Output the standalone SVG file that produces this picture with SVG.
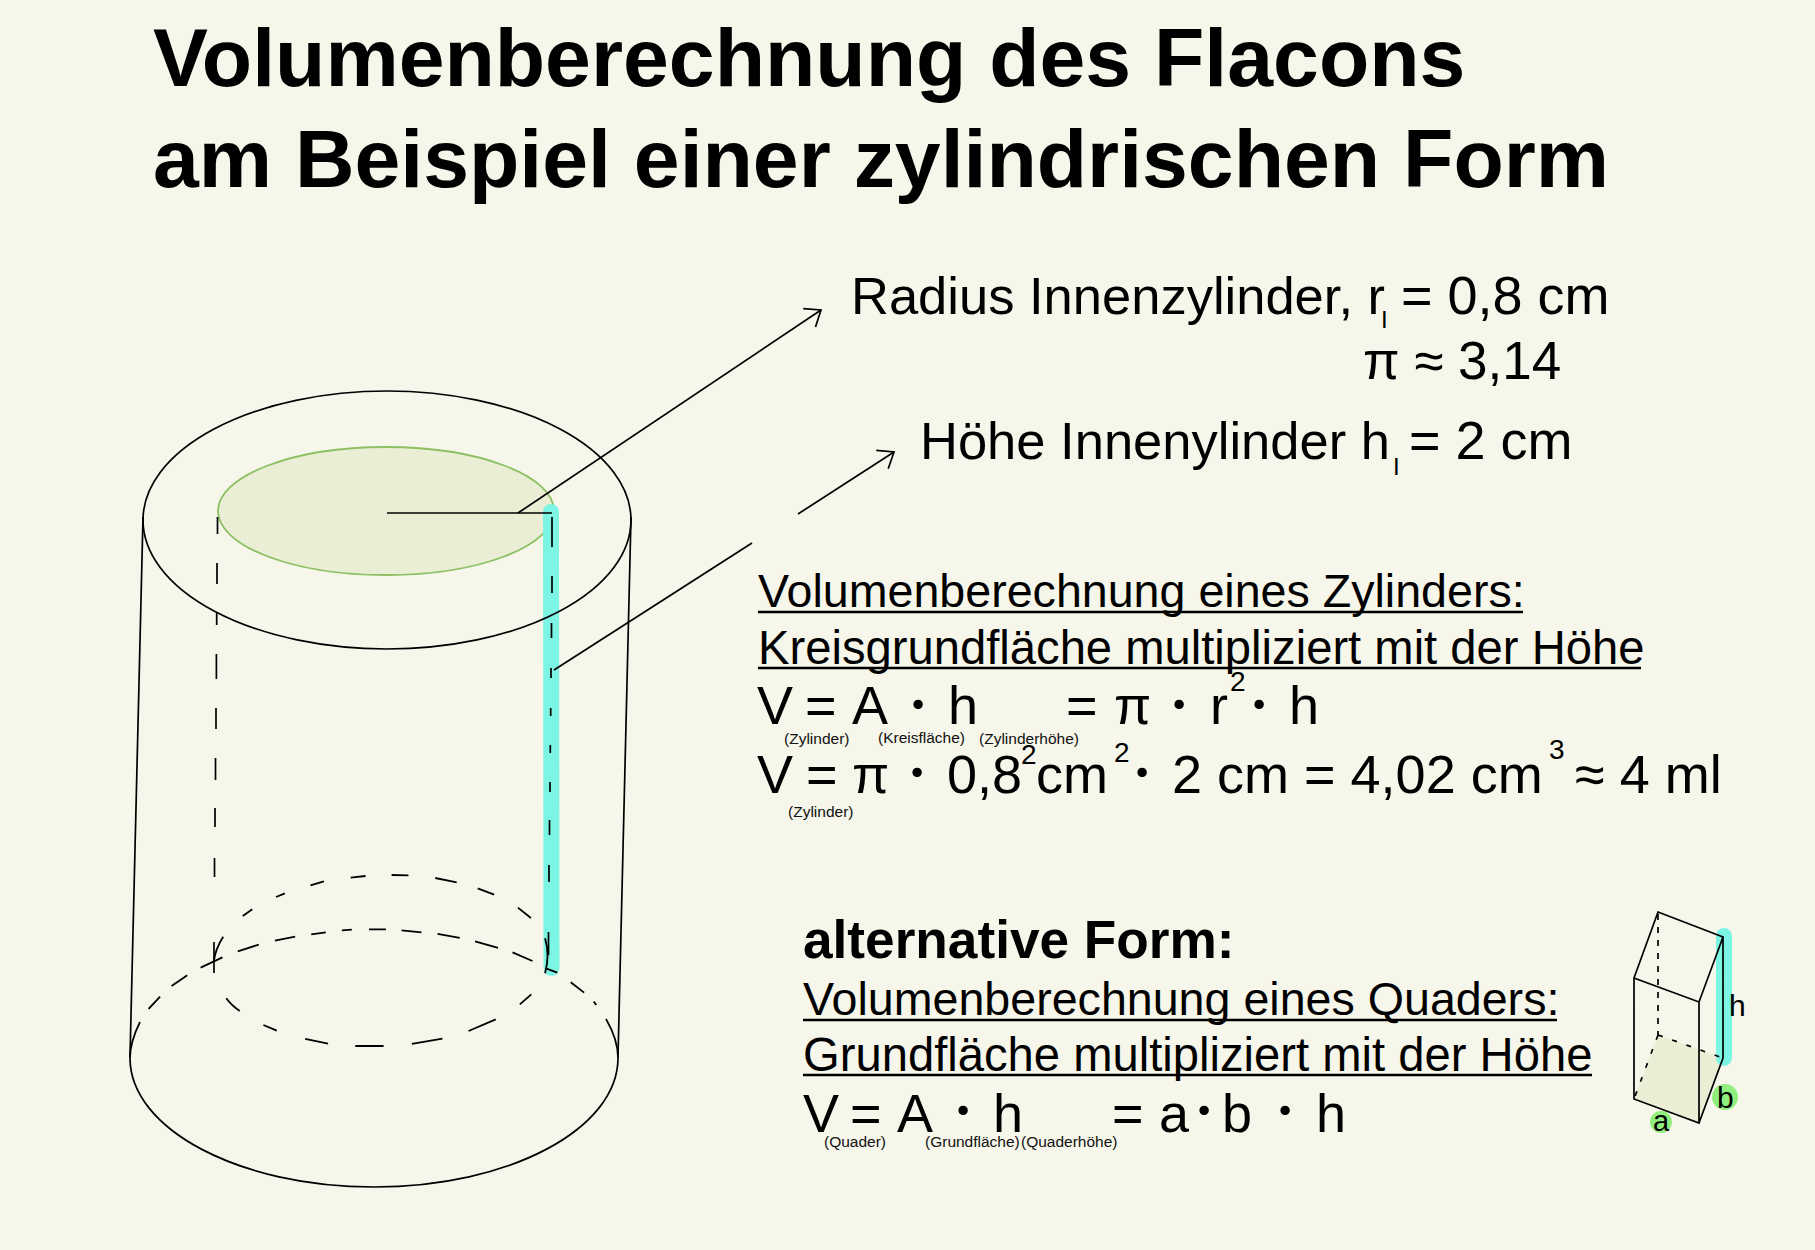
<svg xmlns="http://www.w3.org/2000/svg" width="1815" height="1250" viewBox="0 0 1815 1250">
<style>
text{font-family:"Liberation Sans",Arial,sans-serif;fill:#000}
.title{font-size:82.4px;font-weight:700}
.big{font-size:52.5px}
.big2{font-size:54px}
.midc{font-size:46.6px}
.mid{font-size:47.2px}
.eq{font-size:54px}
.dot{font-family:Lato,"Liberation Sans",sans-serif;font-size:50px;font-weight:700;text-anchor:middle}
.sup{font-size:28px}
.sub{font-size:15.5px;fill:#111}
.sb{font-size:24px}
.ln{fill:none;stroke:#000;stroke-width:1.7}
.thin{fill:none;stroke:#000;stroke-width:1.8;vector-effect:non-scaling-stroke}
.cy{fill:none;stroke:#7cf5e4;stroke-linecap:round}
.u{stroke:#000;stroke-width:2.6;fill:none}
</style>
<defs>
<marker id="open" markerUnits="userSpaceOnUse" markerWidth="32" markerHeight="32" refX="20" refY="16" orient="auto" overflow="visible">
<path d="M6,5 L20,16 L6,27" fill="none" stroke="#000" stroke-width="1.7"/>
</marker>
</defs>
<rect width="1815" height="1250" fill="#f6f6ea"/>

<g id="title">
<text class="title" x="153" y="86">Volumenberechnung des Flacons</text>
<text class="title" x="153" y="187">am Beispiel einer zylindrischen Form</text>
</g>

<g id="cylinder">
<ellipse cx="386" cy="511" rx="168" ry="64" fill="#e9eed5" stroke="#8cc063" stroke-width="1.8"/>
<path class="cy" stroke-width="16" d="M551,512 L551.5,968"/>
<ellipse class="ln" cx="387" cy="520" rx="244" ry="129"/>
<path class="ln" d="M143,517 L130,1057 M631,517 L618,1057"/>
<path class="ln" d="M387,513 H552"/>
<path class="ln" d="M140,1022 C134,1034 130,1046 130,1058 C130,1129 239,1187 374,1187 C509,1187 618,1129 618,1058 C618,1044 613,1031 606,1019"/>
<g transform="translate(100,820) scale(.3827,.3333)">
<path class="thin" d="M127,567L157,530M187,498L228,466M263,443L320,412M360,394L415,374M457,362L510,350M552,343L590,337M632,331L658,329M703,328L747,328M788,331L840,337M882,342L940,354M980,364L1040,384M1078,397L1130,423M1165,445L1195,458M1230,487L1265,518M1290,545L1297,555"/>
<path class="thin" d="M373,288L398,268M460,231L483,220M550,196L585,184M655,173L694,168M762,165L806,166M876,174L932,187M987,205L1030,224M1092,263L1126,294M1163,355Q1176,405 1163,460M322,350Q302,385 297,425M330,535Q343,556 365,573M427,615L462,632M536,657L596,671M667,678L741,678M815,672L895,656M963,633L1034,598M1097,553L1127,523"/>
</g>
<path class="ln" d="M217.5,517V534M217,563V584M216.7,613V625M216.4,654V679M216,708V729M215.5,758V780M215,808V827M214.5,858V877M214,942V973"/>
<path class="ln" d="M552,517V547M552,576V593M551.5,623V638M551,668V678M550.7,708V716M550.3,745V753M550,782V792M549.5,820V835M549,865V882M548.5,932V955"/>
</g>

<g id="connectors">
<path class="ln" d="M518,513 L821,310" marker-end="url(#open)"/>
<path class="ln" d="M554,670 L752,543"/>
<path class="ln" d="M798,514 L894,452" marker-end="url(#open)"/>
</g>

<g id="labels">
<text class="big" x="851" y="314">Radius Innenzylinder, r</text>
<text class="sb" x="1381" y="328">I</text>
<text class="big2" x="1401" y="314">= 0,8 cm</text>
<text x="1363" y="379" style="font-size:53px">π ≈ 3,14</text>
<text class="big" x="920" y="459">Höhe Innenylinder h</text>
<text class="sb" x="1393" y="475">I</text>
<text class="big2" x="1409" y="459">= 2 cm</text>
</g>

<g id="zylinder-formel">
<text class="midc" x="758" y="607">Volumenberechnung eines Zylinders:</text>
<path class="u" d="M758,612H1523"/>
<text class="mid" x="758" y="664">Kreisgrundfläche multipliziert mit der Höhe</text>
<path class="u" d="M758,668H1641"/>
<text class="eq" x="757" y="724">V</text>
<text class="eq" x="805" y="724">=</text>
<text class="eq" x="852" y="724">A</text>
<text class="dot" x="918" y="719">·</text>
<text class="eq" x="948" y="724">h</text>
<text class="eq" x="1066" y="724">=</text>
<text class="eq" x="1114" y="724">π</text>
<text class="dot" x="1179" y="719">·</text>
<text class="eq" x="1210" y="724">r</text>
<text class="sup" x="1230" y="691">2</text>
<text class="dot" x="1259" y="719">·</text>
<text class="eq" x="1289" y="724">h</text>
<text class="sub" x="784" y="744">(Zylinder)</text>
<text class="sub" x="878" y="743">(Kreisfläche)</text>
<text class="sub" x="979" y="744">(Zylinderhöhe)</text>
<text class="eq" x="757" y="793">V</text>
<text class="eq" x="806" y="793">=</text>
<text class="eq" x="852" y="793">π</text>
<text class="dot" x="917" y="787">·</text>
<text class="eq" x="947" y="793">0,8</text>
<text class="sup" x="1021" y="764">2</text>
<text class="eq" x="1036" y="793">cm</text>
<text class="sup" x="1114" y="762">2</text>
<text class="dot" x="1142" y="787">·</text>
<text class="eq" x="1172" y="793">2 cm = 4,02 cm</text>
<text class="sup" x="1549" y="759">3</text>
<text class="eq" x="1575" y="793">≈ 4 ml</text>
<text class="sub" x="788" y="817">(Zylinder)</text>
</g>

<g id="quader-formel">
<text x="803" y="958" style="font-size:53.2px;font-weight:700">alternative Form:</text>
<text class="midc" x="803" y="1015">Volumenberechnung eines Quaders:</text>
<path class="u" d="M803,1020H1557"/>
<text class="mid" x="803" y="1071">Grundfläche multipliziert mit der Höhe</text>
<path class="u" d="M803,1075H1592"/>
<text class="eq" x="803" y="1132">V</text>
<text class="eq" x="850" y="1132">=</text>
<text class="eq" x="897" y="1132">A</text>
<text class="dot" x="963" y="1125">·</text>
<text class="eq" x="993" y="1132">h</text>
<text class="eq" x="1112" y="1132">=</text>
<text class="eq" x="1159" y="1132">a</text>
<text class="dot" x="1204" y="1125">·</text>
<text class="eq" x="1222" y="1132">b</text>
<text class="dot" x="1285" y="1125">·</text>
<text class="eq" x="1316" y="1132">h</text>
<text class="sub" x="824" y="1147">(Quader)</text>
<text class="sub" x="925" y="1147">(Grundfläche)</text>
<text class="sub" x="1021" y="1147">(Quaderhöhe)</text>
</g>

<g id="quader">
<polygon points="1634,1099 1699,1123 1723,1058 1658,1035" fill="#e9eed5"/>
<path class="cy" stroke-width="16" d="M1724,936 L1724,1058"/>
<circle cx="1661" cy="1122" r="11" fill="#90ee7c"/>
<circle cx="1725" cy="1097" r="13" fill="#90ee7c"/>
<path class="ln" d="M1658,912 L1723,937 L1699,1002 L1634,978 Z M1634,978 V1099 L1699,1123 V1002 M1723,937 V1058 L1699,1123"/>
<path class="ln" stroke-dasharray="6 7" d="M1658,914 V1035"/>
<path class="ln" stroke-dasharray="5 10" d="M1658,1035 L1723,1058 M1658,1035 L1634,1099"/>
<text x="1653" y="1131" style="font-size:29px">a</text>
<text x="1717" y="1108" style="font-size:30px">b</text>
<text x="1729" y="1016" style="font-size:30px">h</text>
</g>
</svg>
